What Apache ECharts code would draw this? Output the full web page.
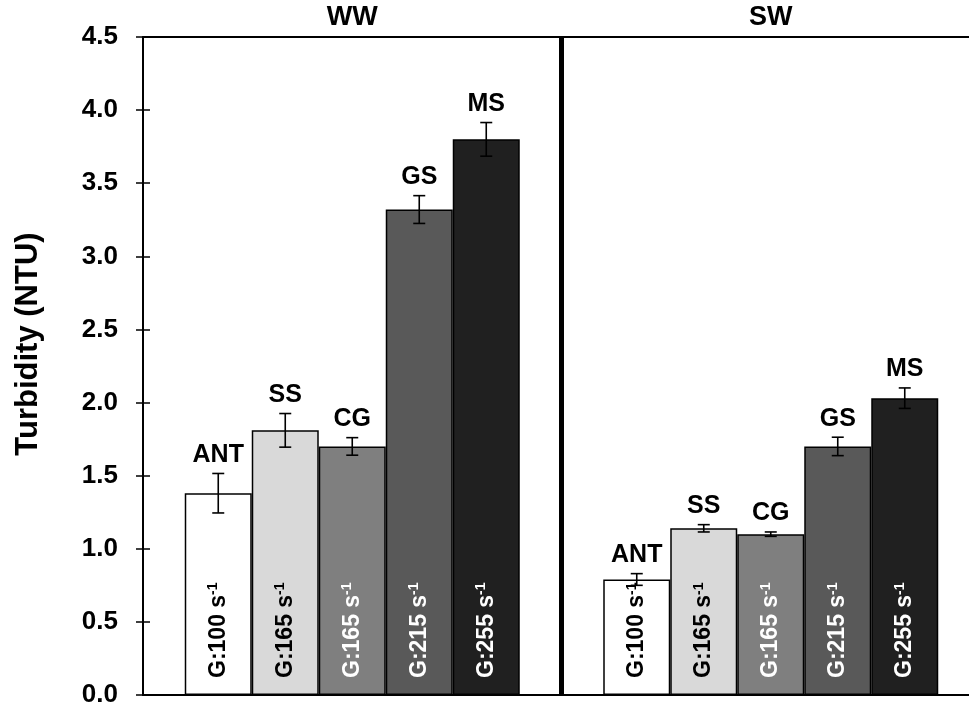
<!DOCTYPE html>
<html>
<head>
<meta charset="utf-8">
<script src="https://cdn.jsdelivr.net/npm/echarts@6/dist/echarts.min.js"></script>
<style>
  html, body { margin: 0; padding: 0; background: #fff; }
  #chart { width: 969px; height: 711px; }
</style>
</head>
<body>
<div id="chart"></div>
<script>
// Water types and treatment stages
const groups = ['WW', 'SW'];
const treatments = ['ANT', 'SS', 'CG', 'GS', 'MS'];
// Velocity gradient G (s^-1) for each treatment
const gradientG = [100, 165, 165, 215, 255];

// Mean turbidity (NTU) and standard deviation
const turbidityWW = [1.38, 1.81, 1.70, 3.32, 3.80];
const turbiditySW = [0.79, 1.14, 1.10, 1.70, 2.03];
const errorWW = [0.135, 0.115, 0.06, 0.095, 0.115];
const errorSW = [0.04, 0.025, 0.015, 0.063, 0.07];

// y-axis ticks
const yTicks = { min: 0, max: 4.5, step: 0.5 };
const yTitle = 'Turbidity (NTU)';

// Styling
const FONT = '"Liberation Sans", Arial, sans-serif';
const BAR_W = 67;
const barColors = ['#ffffff', '#d9d9d9', '#7f7f7f', '#595959', '#202020'];
const innerTextColors = ['#000000', '#000000', '#ffffff', '#ffffff', '#ffffff'];

const means = [turbidityWW, turbiditySW];
const errs = [errorWW, errorSW];

const barSeries = treatments.map((t, i) => ({
  name: t,
  type: 'bar',
  barWidth: BAR_W,
  barGap: '0%',
  data: groups.map((g, gi) => means[gi][i]),
  itemStyle: { color: barColors[i], borderColor: '#000', borderWidth: 1.5 },
  label: {
    show: true,
    position: 'insideBottom',
    distance: 17,
    rotate: 90,
    align: 'left',
    verticalAlign: 'middle',
    formatter: '{a|G:' + gradientG[i] + ' s}{b|-1}',
    rich: {
      a: { fontFamily: FONT, fontWeight: 'bold', fontSize: 23, color: innerTextColors[i], lineHeight: 24 },
      b: { fontFamily: FONT, fontWeight: 'bold', fontSize: 14, color: innerTextColors[i], verticalAlign: 'top', lineHeight: 24 }
    }
  },
  z: 2
}));

// Error bars with caps plus treatment name above each bar
const errData = [];
groups.forEach((g, gi) => {
  treatments.forEach((t, ti) => {
    errData.push([gi, ti, means[gi][ti], errs[gi][ti]]);
  });
});

const errorSeries = {
  type: 'custom',
  data: errData,
  z: 5,
  renderItem: function (params, api) {
    const gi = api.value(0);
    const ti = api.value(1);
    const m = api.value(2);
    const e = api.value(3);
    const dx = (ti - 2) * BAR_W;
    const top = api.coord([gi, m + e]);
    const bot = api.coord([gi, m - e]);
    const x = top[0] + dx;
    const cap = 6;
    const lineStyle = { stroke: '#000', lineWidth: 1.6 };
    return {
      type: 'group',
      children: [
        { type: 'line', shape: { x1: x, y1: top[1], x2: x, y2: bot[1] }, style: lineStyle },
        { type: 'line', shape: { x1: x - cap, y1: top[1], x2: x + cap, y2: top[1] }, style: lineStyle },
        { type: 'line', shape: { x1: x - cap, y1: bot[1], x2: x + cap, y2: bot[1] }, style: lineStyle },
        {
          type: 'text',
          x: x,
          y: top[1] - 6,
          style: {
            text: treatments[ti],
            fontFamily: FONT,
            fontWeight: 'bold',
            fontSize: 25,
            fill: '#000',
            align: 'center',
            verticalAlign: 'bottom'
          }
        }
      ]
    };
  }
};

const gridBox = { left: 143, width: 837, top: 37, bottom: 16, outerBoundsMode: 'none', containLabel: false, show: false };

const chart = echarts.init(document.getElementById('chart'));
chart.setOption({
  animation: false,
  backgroundColor: '#ffffff',
  // second grid only carries the inward half of the y-axis ticks
  grid: [Object.assign({}, gridBox), Object.assign({}, gridBox)],
  graphic: [{
    type: 'text',
    x: 28,
    y: 344,
    rotation: Math.PI / 2,
    style: {
      text: yTitle,
      fontFamily: FONT,
      fontWeight: 'bold',
      fontSize: 31,
      fill: '#000',
      align: 'center',
      verticalAlign: 'middle'
    }
  }],
  xAxis: [
    {
      type: 'category',
      gridIndex: 0,
      data: groups,
      position: 'top',
      axisLine: { show: true, onZero: false, lineStyle: { color: '#000', width: 2 } },
      axisTick: { show: false },
      axisLabel: { fontFamily: FONT, fontWeight: 'bold', fontSize: 27, color: '#000', margin: 6 },
      splitLine: {
        show: true,
        showMinLine: false,
        showMaxLine: false,
        lineStyle: { color: '#000', width: 5 }
      }
    },
    {
      type: 'category',
      gridIndex: 0,
      data: groups,
      position: 'bottom',
      axisLine: { show: true, onZero: false, lineStyle: { color: '#000', width: 2 } },
      axisTick: { show: false },
      axisLabel: { show: false },
      splitLine: { show: false }
    },
    {
      type: 'category',
      gridIndex: 1,
      data: groups,
      show: false
    }
  ],
  yAxis: [
    {
      type: 'value',
      gridIndex: 0,
      min: yTicks.min, max: yTicks.max, interval: yTicks.step,
      position: 'left',
      axisLine: { show: true, onZero: false, lineStyle: { color: '#000', width: 2 } },
      axisTick: { show: true, inside: false, length: 7, lineStyle: { color: '#000', width: 1.5 } },
      axisLabel: {
        fontFamily: FONT, fontWeight: 'bold', fontSize: 26, color: '#000', margin: 25,
        formatter: v => v.toFixed(1)
      },
      splitLine: { show: false }
    },
    {
      type: 'value',
      gridIndex: 1,
      min: yTicks.min, max: yTicks.max, interval: yTicks.step,
      position: 'left',
      axisLine: { show: false, onZero: false },
      axisTick: { show: true, inside: true, length: 7, lineStyle: { color: '#000', width: 1.5 } },
      axisLabel: { show: false },
      splitLine: { show: false }
    }
  ],
  series: [...barSeries, errorSeries]
});
</script>
</body>
</html>
